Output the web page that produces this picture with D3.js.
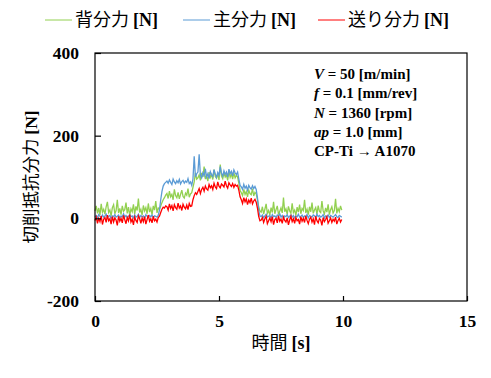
<!DOCTYPE html>
<html>
<head>
<meta charset="utf-8">
<script src="https://cdn.jsdelivr.net/npm/d3@7"></script>
<style>
  body { margin: 0; background: #fff; }
  svg { display: block; }
</style>
</head>
<body>
<div class="area"></div>
<script>
// sample interval of the logged forces [s]
var dt = 0.05;

var seriesNames = ['背分力', '主分力', '送り分力'];
var seriesColors = ['#92d050', '#5b9bd5', '#ff0000'];

var xTicks = [0, 5, 10, 15];
var yTicks = [-200, 0, 200, 400];

// 背分力 (thrust)
var thrust = [18, 30, 12, 25, 8, 35, 15, 22, 10, 28, 40, 14, 20, 6, 26, 33, 11, 19, 45, 13,
  24, 9, 30, 17, 21, 38, 12, 27, 7, 23, 16, 34, 10, 29, 19, 48, 14, 22, 8, 31,
  18, 26, 11, 36, 15, 24, 9, 30, 20, 42, 13, 25,
  22, 30, 38, 45, 50, 56,
  60, 48, 66, 52, 58, 45, 70, 55, 50, 63, 47, 58, 68, 53, 49, 61, 56, 72, 51, 59,
  62, 75, 88, 110, 95,
  98, 105, 92, 110, 100, 125, 95, 103, 90, 112, 99, 106, 94, 118, 101, 97, 108, 93, 130, 102,
  96, 111, 100, 105, 92, 115, 99, 107, 95, 110, 98, 104, 100,
  85, 68,
  62, 55, 70, 58, 65, 52, 68, 60, 57, 72, 54, 63, 59,
  45, 28, 18,
  15, 28, 10, 22, 35, 12, 19, 8, 26, 14, 40, 11, 21, 30, 9, 17, 25, 13, 50, 16,
  23, 10, 29, 18, 12, 36, 14, 20, 7, 27, 15, 33, 11, 24, 19, 45, 13, 22, 9, 28,
  16, 38, 12, 20, 26, 10, 31, 17, 14, 42, 18, 11, 25, 15, 34, 9, 21, 28, 13, 19,
  47, 12, 24, 16, 30, 20];

// 主分力 (principal)
var principal = [4, 7, 2, 9, 5, 1, 8, 3, 6, 10, 2, 5, 7, 0, 6, 4, 9, 3, 5, 8,
  1, 6, 4, 11, 3, 7, 2, 5, 9, 4, 6, 1, 8, 3, 5, 10, 2, 7, 4, 6,
  0, 9, 5, 3, 7, 4, 8, 2, 6, 5, 3, 7,
  20, 45, 65, 78, 84, 87,
  90, 85, 93, 87, 82, 95, 88, 84, 91, 86, 94, 83, 89, 92, 85, 90, 87, 96, 84, 88,
  80, 95, 150, 100, 108,
  112, 155, 104, 98, 110, 103, 120, 100, 108, 96, 113, 105, 101, 118, 107, 99, 111, 104, 125, 109,
  102, 115, 106, 112, 100, 119, 108, 114, 103, 117, 110, 106, 112,
  95, 80,
  76, 70, 82, 73, 78, 68, 80, 74, 71, 79, 72, 77, 70,
  50, 20, 6,
  4, 8, 2, 6, 10, 3, 5, 7, 1, 9, 4, 6, 2, 8, 5, 11, 3, 7, 0, 6,
  4, 9, 2, 5, 8, 3, 7, 1, 6, 4, 10, 3, 5, 8, 2, 6, 4, 9, 1, 7,
  5, 3, 8, 6, 2, 10, 4, 7, 3, 5, 9, 1, 6, 4, 8, 2, 7, 5, 3, 6,
  9, 4, 2, 7, 5, 3];

// 送り分力 (feed)
var feed = [-5, 3, -12, 0, -8, 6, -15, -2, 2, -10, 8, -6, -1, -14, 4, -9, 1, -4, -17, 5,
  -7, 0, -11, 7, -3, -13, 2, -6, 9, -9, -2, -16, 3, -5, -10, 6, -1, -12, 1, -8,
  4, -14, -3, 8, -7, -1, -11, 5, -6, -2, -9, 2,
  5, 14, 22, 27, 25, 30,
  28, 20, 35, 24, 31, 18, 33, 26, 22, 37, 25, 30, 19, 34, 27, 23, 32, 21, 36, 29,
  30, 45, 55, 62, 58,
  65, 72, 60, 70, 75, 66, 78, 71, 68, 82, 74, 79, 70, 85, 76, 72, 88, 78, 74, 83,
  80, 76, 90, 79, 73, 86, 81, 77, 84, 75, 82, 78, 80,
  68, 52,
  45, 36, 50, 40, 47, 33, 44, 38, 49, 35, 42, 46, 39,
  25, 5, -6,
  -4, 2, -10, -1, 5, -13, -6, 1, -8, 4, -15, -3, 0, -11, 6, -7, -2, -12, 3, -5,
  -9, 1, -16, -4, 5, -8, -1, -12, 2, -6, -3, -14, 4, -7, 0, -10, 6, -5, -13, -2,
  3, -9, -1, -15, 5, -6, -11, 0, -4, -17, 2, -8, -3, 4, -12, -6, 1, -10, -2, -7,
  3, -14, -5, 0, -9, -3];

var series = [thrust, principal, feed];

var serif = '"Liberation Serif", "Times New Roman", serif';
var cjk = '"Noto Sans CJK JP", sans-serif';

var svg = d3.select('.area')
    .append('svg')
    .attr('width', 491)
    .attr('height', 378);

var plotL = 95, plotR = 467, plotT = 53, plotB = 301;

var x = d3.scaleLinear().domain([0, 15]).range([plotL, plotR]);
var y = d3.scaleLinear().domain([-200, 400]).range([plotB, plotT]);

// data lines
var line = d3.line()
    .x(function(d, i) { return x(i * dt); })
    .y(function(d) { return y(d); });

series.forEach(function(s, k) {
    svg.append('path')
        .datum(s)
        .attr('d', line)
        .attr('fill', 'none')
        .attr('stroke', seriesColors[k])
        .attr('stroke-width', 1.3);
});

// frame
svg.append('rect')
    .attr('x', plotL)
    .attr('y', plotT)
    .attr('width', plotR - plotL)
    .attr('height', plotB - plotT)
    .attr('fill', 'none')
    .attr('stroke', 'black')
    .attr('stroke-width', 1.2);

// axes, ticks inward; plain hyphen for negatives like the original
var xAxis = svg.append('g')
    .attr('transform', 'translate(0,' + plotB + ')')
    .call(d3.axisBottom(x).tickValues(xTicks).tickFormat(String)
        .tickSizeInner(-5).tickSizeOuter(0).tickPadding(14));
var yAxis = svg.append('g')
    .attr('transform', 'translate(' + plotL + ',0)')
    .call(d3.axisLeft(y).tickValues(yTicks).tickFormat(String)
        .tickSizeInner(-6).tickSizeOuter(0).tickPadding(16));

[xAxis, yAxis].forEach(function(a) {
    a.select('.domain').remove();
    a.selectAll('line').attr('stroke', 'black').attr('stroke-width', 1.2);
    a.selectAll('text')
        .attr('fill', 'black')
        .style('font-family', serif)
        .style('font-weight', 'bold')
        .style('font-size', '17.5px');
});

// axis titles
var xt = svg.append('text')
    .attr('x', 281)
    .attr('y', 349)
    .attr('text-anchor', 'middle')
    .style('font-size', '18px');
xt.append('tspan').style('font-family', cjk).text('時間 ');
xt.append('tspan').style('font-family', serif).style('font-weight', 'bold').text('[s]');

var yt = svg.append('text')
    .attr('transform', 'translate(37,177) rotate(-90)')
    .attr('text-anchor', 'middle')
    .style('font-size', '17.5px');
yt.append('tspan').style('font-family', cjk).text('切削抵抗分力 ');
yt.append('tspan').style('font-family', serif).style('font-weight', 'bold').text('[N]');

// legend
var legendX = [45, 183, 318];
seriesNames.forEach(function(name, k) {
    svg.append('line')
        .attr('x1', legendX[k])
        .attr('x2', legendX[k] + 27)
        .attr('y1', 20)
        .attr('y2', 20)
        .attr('stroke', seriesColors[k])
        .attr('stroke-width', 1);
    var t = svg.append('text')
        .attr('x', legendX[k] + 30)
        .attr('y', 26)
        .style('font-size', '18px');
    t.append('tspan').style('font-family', cjk).text(name + ' ');
    t.append('tspan').style('font-family', serif).style('font-weight', 'bold').text('[N]');
});

// cutting conditions
var conds = [['V', ' = 50 [m/min]'], ['f', ' = 0.1 [mm/rev]'], ['N', ' = 1360 [rpm]'],
    ['ap', ' = 1.0 [mm]'], ['', 'CP-Ti → A1070']];
conds.forEach(function(c, i) {
    var t = svg.append('text')
        .attr('x', 314)
        .attr('y', 79 + i * 19.3)
        .style('font-family', serif)
        .style('font-weight', 'bold')
        .style('font-size', '15px');
    if (c[0]) t.append('tspan').style('font-style', 'italic').text(c[0]);
    t.append('tspan').text(c[1]);
});
</script>
</body>
</html>
